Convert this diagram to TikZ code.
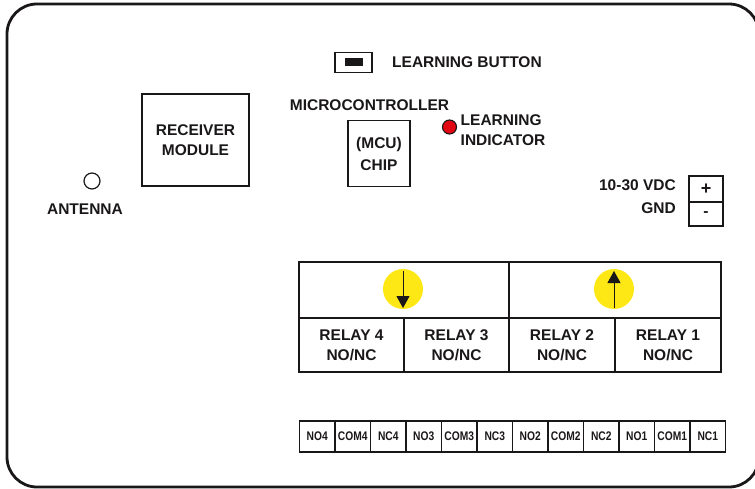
\documentclass[tikz,border=0pt]{standalone}
\usepackage{fontspec}
\setmainfont{Liberation Sans}
\newfontfamily\termfont[FakeStretch=0.82]{Liberation Sans}
\usepackage{tikz}
\usetikzlibrary{arrows.meta}
\definecolor{inkblack}{HTML}{1A1718}
\definecolor{ledred}{HTML}{E30613}
\definecolor{arrowyellow}{HTML}{FDE816}
\tikzset{
  boardtext/.style={font=\fontsize{15.5}{20}\selectfont\bfseries, text=inkblack, align=center, inner sep=0pt},
  box/.style={draw=inkblack, line width=1.3pt, inner sep=0pt, outer sep=0pt, minimum width=#1},
  relaycell/.style={draw=inkblack, line width=1.1pt, boardtext, minimum height=54pt, minimum width=#1},
  fancell/.style={draw=inkblack, line width=1.1pt, minimum height=56pt, minimum width=#1, outer sep=0pt},
  termcell/.style={draw=inkblack, line width=1.25pt, minimum width=35.5pt, minimum height=31pt, inner sep=0pt,
    font=\fontsize{12.5}{13}\termfont\bfseries, text=inkblack},
  flow/.style={draw=inkblack, line width=1pt, -{Triangle[length=12pt,width=13pt]}}
}
\begin{document}
\begin{tikzpicture}[x=1pt,y=-1pt]
      \clip (0,0) rectangle (755,489);

      % board outline
      \draw[inkblack, line width=2.8pt, rounded corners=30pt] (7,4) rectangle (759,487);

      % button
      \node[box=37pt, minimum height=20pt, line width=1.6pt] (button) at (353.5,62.5) {};
      \node[fill=inkblack, minimum width=18pt, minimum height=8pt, inner sep=0pt] (buttoncap) at (354,62) {};
      \node[boardtext, anchor=west] (buttontext) at (392,62.5) {LEARNING BUTTON};

      % receiver and mcu
      \node[box=107pt, boardtext, minimum height=92pt, line width=1.9pt] (receiver) at (195.5,140) {RECEIVER\\MODULE};
      \node[boardtext] (mcutext) at (369.5,105.5) {MICROCONTROLLER};
      \node[box=62pt, boardtext, minimum height=66pt, font=\fontsize{15.5}{22}\selectfont\bfseries] (mcu) at (379,153.5) {(MCU)\\CHIP};

      % led
      \node[circle, draw=inkblack, line width=1.1pt, fill=ledred, minimum size=14pt, inner sep=0pt] (led) at (449.5,127) {};
      \node[boardtext, align=left, anchor=west] (ledtext) at (460.5,130) {LEARNING\\INDICATOR};

      % antenna
      \node[circle, draw=inkblack, line width=1.2pt, minimum size=16pt, inner sep=0pt] (antenna) at (92,181) {};
      \node[boardtext] (antennatext) at (85,209) {ANTENNA};

      % power
      \node[boardtext, anchor=east] (vdctext) at (676,185.5) {10-30 VDC};
      \node[boardtext, anchor=east] (gndtext) at (676,208.5) {GND};
      \node[box=34pt, boardtext, minimum height=26pt, font=\fontsize{18}{20}\selectfont\bfseries] (plus) at (706,189) {+};
      \node[box=34pt, boardtext, minimum height=24pt] (minus) at (706,214) {-};

      % relays
      \node[fancell=210pt] (fanleft) at (404,290) {};
      \node[fancell=212pt] (fanright) at (615,290) {};
      \node[relaycell=105pt] (relayfour) at (351.5,345) {RELAY 4\\NO/NC};
      \node[relaycell=105pt] (relaythree) at (456.5,345) {RELAY 3\\NO/NC};
      \node[relaycell=106pt] (relaytwo) at (562,345) {RELAY 2\\NO/NC};
      \node[relaycell=106pt] (relayone) at (668,345) {RELAY 1\\NO/NC};

      \node[circle, fill=arrowyellow, minimum size=40pt, inner sep=0pt] (dotleft) at (403,289) {};
      \node[circle, fill=arrowyellow, minimum size=40pt, inner sep=0pt] (dotright) at (614,289) {};
      \coordinate (downstart) at (403,271);
      \coordinate (downend) at (403,308);
      \coordinate (upstart) at (614,308);
      \coordinate (upend) at (614,271);
      \draw[flow] (downstart) -- (downend);
      \draw[flow] (upstart) -- (upend);

      % terminals
      \node[termcell] (nofour) at (317.25,436.5) {NO4};
      \node[termcell] (comfour) at (352.75,436.5) {COM4};
      \node[termcell] (ncfour) at (388.25,436.5) {NC4};
      \node[termcell] (nothree) at (423.75,436.5) {NO3};
      \node[termcell] (comthree) at (459.25,436.5) {COM3};
      \node[termcell] (ncthree) at (494.75,436.5) {NC3};
      \node[termcell] (notwo) at (530.25,436.5) {NO2};
      \node[termcell] (comtwo) at (565.75,436.5) {COM2};
      \node[termcell] (nctwo) at (601.25,436.5) {NC2};
      \node[termcell] (noone) at (636.75,436.5) {NO1};
      \node[termcell] (comone) at (672.25,436.5) {COM1};
      \node[termcell] (ncone) at (707.75,436.5) {NC1};

    \end{tikzpicture}
\end{document}
